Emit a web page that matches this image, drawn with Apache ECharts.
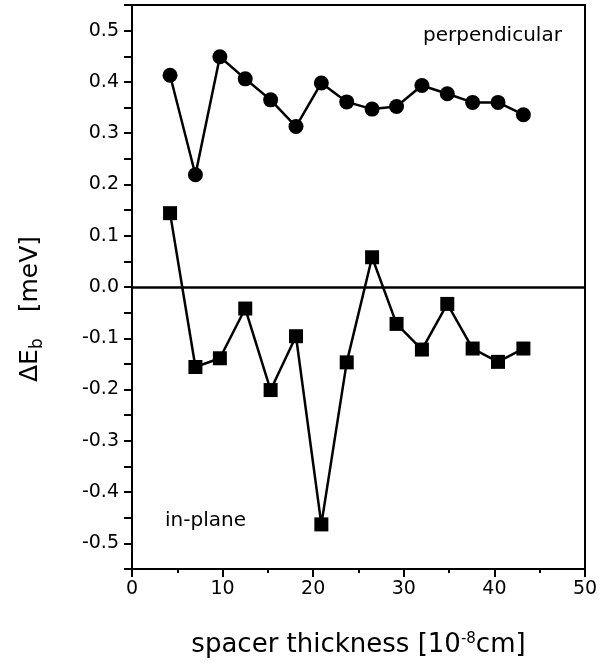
<!DOCTYPE html>
<html>
<head>
<meta charset="utf-8">
<script src="https://cdn.jsdelivr.net/npm/echarts@6/dist/echarts.min.js"></script>
<style>
  html, body { margin: 0; padding: 0; background: #fff; }
  #chart { width: 611px; height: 664px; }
</style>
</head>
<body>
<div id="chart"></div>
<script>
// spacer thickness (10^-8 cm)
const thickness = [4.2, 7.0, 9.7, 12.5, 15.3, 18.1, 20.9, 23.7, 26.5, 29.2, 32.0, 34.8, 37.6, 40.4, 43.2];
// ΔE_b in meV
const perpendicular = [0.413, 0.219, 0.449, 0.406, 0.365, 0.313, 0.398, 0.361, 0.347, 0.352, 0.393, 0.377, 0.360, 0.360, 0.336];
const inPlane = [0.144, -0.156, -0.139, -0.042, -0.201, -0.096, -0.463, -0.147, 0.058, -0.072, -0.122, -0.033, -0.120, -0.146, -0.120];

const xTicks = [0, 10, 20, 30, 40, 50];
const yRange = [-0.55, 0.55];

const font = "DejaVu Sans";

const chart = echarts.init(document.getElementById("chart"));

const pair = (xs, ys) => xs.map((x, i) => [x, ys[i]]);

const options = {
  animation: false,
  backgroundColor: "#fff",
  textStyle: { fontFamily: font, color: "#000" },
  grid: {
    left: 132,
    right: 26,
    top: 5,
    bottom: 95,
    outerBoundsMode: "none",
    containLabel: false,
    show: true,
    borderColor: "#000",
    borderWidth: 2,
    backgroundColor: "transparent",
  },
  xAxis: {
    type: "value",
    min: xTicks[0],
    max: xTicks[xTicks.length - 1],
    interval: 10,
    name: "spacer thickness [10{sup|-8}cm]",
    nameLocation: "middle",
    nameGap: 63,
    nameTextStyle: {
      fontFamily: font,
      fontSize: 26,
      color: "#000",
      rich: {
        sup: { fontFamily: font, fontSize: 15, verticalAlign: "top", padding: [0, 0, 12, 0], color: "#000" },
      },
    },
    axisLine: { show: true, onZero: false, lineStyle: { color: "#000", width: 2 } },
    axisTick: { show: true, inside: false, length: 8, lineStyle: { color: "#000", width: 2 } },
    minorTick: { show: true, splitNumber: 2, length: 4, lineStyle: { color: "#000", width: 2 } },
    splitLine: { show: false },
    axisLabel: { fontFamily: font, fontSize: 19, color: "#000", margin: 11 },
  },
  yAxis: {
    type: "value",
    min: yRange[0],
    max: yRange[1],
    interval: 0.05,
    name: "{big|ΔE}{sub|b}{gap|}{big|[meV]}{tail|}",
    nameLocation: "middle",
    nameGap: 86,
    nameRotate: 90,
    nameTextStyle: {
      fontFamily: font,
      fontSize: 25,
      color: "#000",
      rich: {
        big: { fontFamily: font, fontSize: 25, color: "#000" },
        sub: { fontFamily: font, fontSize: 17, color: "#000", verticalAlign: "bottom", padding: [14, 0, 0, 0] },
        gap: { width: 26 },
        tail: { width: 44 },
      },
    },
    axisLine: { show: true, onZero: false, lineStyle: { color: "#000", width: 2 } },
    axisTick: {
      show: true,
      length: 8,
      lineStyle: { color: "#000", width: 2 },
    },
    minorTick: { show: false },
    splitLine: { show: false },
    axisLabel: {
      fontFamily: font,
      fontSize: 19,
      color: "#000",
      margin: 13,
      formatter: (v) => {
        const r = Math.round(v * 100) / 100;
        // only label the tenths; half-steps stay as bare ticks
        if (Math.abs(r * 10 - Math.round(r * 10)) > 1e-6) return "";
        if (Math.abs(r) > 0.5 + 1e-6) return "";
        return r.toFixed(1);
      },
    },
  },
  series: [
    {
      name: "perpendicular",
      type: "line",
      data: pair(thickness, perpendicular),
      symbol: "circle",
      symbolSize: 15,
      itemStyle: { color: "#000" },
      lineStyle: { color: "#000", width: 2.5 },
      z: 3,
    },
    {
      name: "in-plane",
      type: "line",
      data: pair(thickness, inPlane),
      symbol: "rect",
      symbolSize: 14,
      itemStyle: { color: "#000" },
      lineStyle: { color: "#000", width: 2.5 },
      z: 3,
      markLine: {
        silent: true,
        symbol: "none",
        label: { show: false },
        lineStyle: { color: "#000", width: 2.5, type: "solid" },
        data: [{ yAxis: 0 }],
      },
    },
  ],
  graphic: [
    {
      type: "text",
      left: 423,
      top: 26,
      style: { text: "perpendicular", font: "20px " + font, fill: "#000" },
    },
    {
      type: "text",
      left: 165,
      top: 511,
      style: { text: "in-plane", font: "20px " + font, fill: "#000" },
    },
  ],
};

chart.setOption(options);
</script>
</body>
</html>
